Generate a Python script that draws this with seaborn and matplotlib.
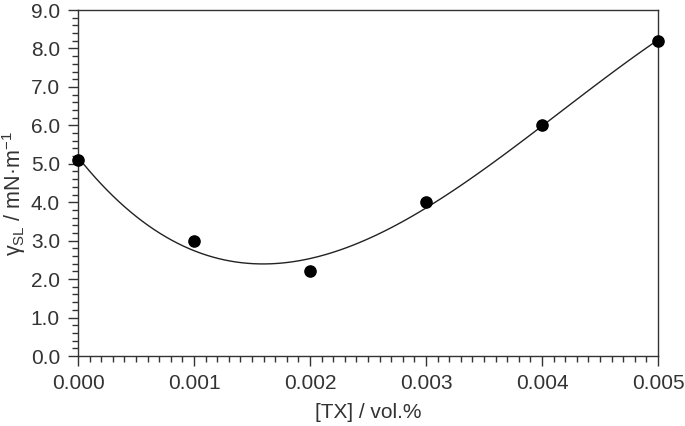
import seaborn as sns
import matplotlib.pyplot as plt
from matplotlib.ticker import MultipleLocator, FormatStrFormatter

# data
tx_conc = [0.000, 0.001, 0.002, 0.003, 0.004, 0.005]
gamma_sl = [5.10, 3.00, 2.20, 4.00, 6.00, 8.20]

sns.set_style('ticks')
plt.rcParams['font.family'] = ['Liberation Sans', 'DejaVu Sans']
plt.rcParams['mathtext.fontset'] = 'custom'
plt.rcParams['mathtext.rm'] = 'Liberation Sans'

fig = plt.figure(figsize=(6.85, 4.26), dpi=100)
ax = fig.add_axes([0.1139, 0.1643, 0.8467, 0.8122])

sns.regplot(x=tx_conc, y=gamma_sl, order=3, ci=None, ax=ax,
            scatter_kws={'s': 65, 'color': 'black', 'clip_on': False,
                         'zorder': 3, 'alpha': 1},
            line_kws={'color': '#222222', 'lw': 1.0})

ax.set_xlim(0, 0.005)
ax.set_ylim(0, 9)
ax.xaxis.set_major_locator(MultipleLocator(0.001))
ax.xaxis.set_minor_locator(MultipleLocator(0.0001))
ax.yaxis.set_major_locator(MultipleLocator(1.0))
ax.yaxis.set_minor_locator(MultipleLocator(0.2))
ax.xaxis.set_major_formatter(FormatStrFormatter('%.3f'))
ax.yaxis.set_major_formatter(FormatStrFormatter('%.1f'))

ax.tick_params(which='major', length=7, width=1, color='#333333',
               labelsize=15, labelcolor='#333333')
ax.tick_params(axis='y', which='major', pad=6)
ax.tick_params(axis='x', which='major', pad=6)
ax.tick_params(which='minor', length=4, width=1, color='#333333')
for s in ax.spines.values():
    s.set_color('#333333')
    s.set_linewidth(1)

ax.set_xlabel('[TX] / vol.%', fontsize=15, color='#333333', labelpad=7)
ax.set_ylabel(r'γ$_{\mathrm{SL}}$ / mN·m$^{-1}$', fontsize=15.5,
              color='#333333')
ax.yaxis.set_label_coords(-0.086, 0.47)

plt.savefig('out.png', dpi=100)
plt.close()
